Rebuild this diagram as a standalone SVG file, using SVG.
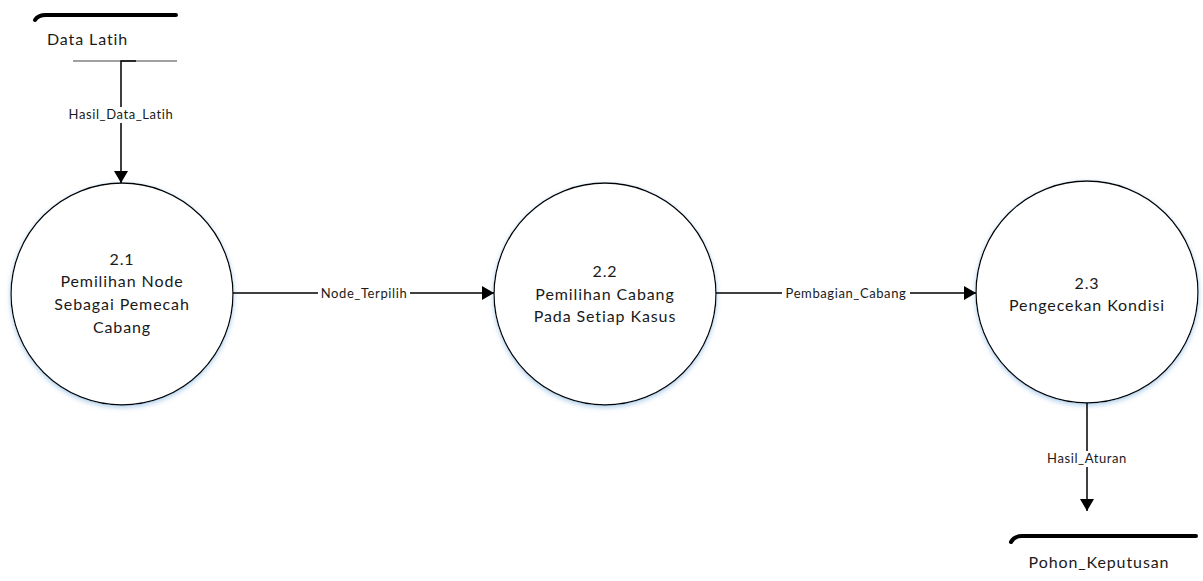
<svg xmlns="http://www.w3.org/2000/svg" width="1203" height="581" viewBox="0 0 1203 581">
  <style>
    .proc { fill: #ffffff; stroke: #000000; stroke-width: 1.3; }
    .ptext { font-family: Lato, "Open Sans", sans-serif; font-size: 16px; letter-spacing: 0.9px; fill: #1a1a1a; text-anchor: middle; }
    .stext { font-family: Lato, "Open Sans", sans-serif; font-size: 16px; letter-spacing: 0.9px; fill: #1a1a1a; }
    .flow { fill: none; stroke: #000000; stroke-width: 1.5; }
    .ftext { font-family: Lato, "Open Sans", sans-serif; font-size: 13px; letter-spacing: 0.6px; fill: #1a1a1a; text-anchor: middle; }
    .lbg { fill: #ffffff; }
    .storeTop { fill: none; stroke: #000000; stroke-width: 4; stroke-linecap: round; }
  </style>
  <defs>
    <marker id="arrow" viewBox="0 0 12 14" refX="12" refY="7" markerWidth="12" markerHeight="14" markerUnits="userSpaceOnUse" orient="auto">
      <path d="M0,0 L12,7 L0,14 Z" fill="#000000"/>
    </marker>
    <filter id="glow" x="-20%" y="-20%" width="140%" height="140%">
      <feGaussianBlur in="SourceAlpha" stdDeviation="2.5"/>
      <feOffset dy="2" result="b"/>
      <feFlood flood-color="#9cc3e6" flood-opacity="0.8"/>
      <feComposite in2="b" operator="in"/>
      <feMerge><feMergeNode/><feMergeNode in="SourceGraphic"/></feMerge>
    </filter>
  </defs>

  <!-- Data stores -->
  <g id="store-data-latih">
    <path class="storeTop" d="M35,20 Q38,15 46,15 L176,15"/>
    <line x1="73" y1="61" x2="177" y2="61" stroke="#a0a0a0" stroke-width="2"/>
    <text class="stext" x="47" y="45">Data Latih</text>
  </g>

  <g id="store-pohon-keputusan">
    <path class="storeTop" d="M1011,542 Q1014,536 1022,536 L1196,536"/>
    <text class="stext" x="1099" y="568" text-anchor="middle">Pohon_Keputusan</text>
  </g>

  <!-- Processes -->
  <g id="proc-2-1">
    <circle class="proc" cx="122" cy="294" r="111" filter="url(#glow)"/>
    <text class="ptext" x="122" y="265">2.1</text>
    <text class="ptext" x="122" y="287">Pemilihan Node</text>
    <text class="ptext" x="122" y="310">Sebagai Pemecah</text>
    <text class="ptext" x="122" y="333">Cabang</text>
  </g>

  <g id="proc-2-2">
    <circle class="proc" cx="605" cy="294" r="111" filter="url(#glow)"/>
    <text class="ptext" x="605" y="277">2.2</text>
    <text class="ptext" x="605" y="300">Pemilihan Cabang</text>
    <text class="ptext" x="605" y="322">Pada Setiap Kasus</text>
  </g>

  <g id="proc-2-3">
    <circle class="proc" cx="1087" cy="292" r="111" filter="url(#glow)"/>
    <text class="ptext" x="1087" y="289">2.3</text>
    <text class="ptext" x="1087" y="311">Pengecekan Kondisi</text>
  </g>

  <!-- Data flows -->
  <g id="flows">
    <path class="flow" d="M136,61 L121,61 L121,183" marker-end="url(#arrow)"/>
    <rect class="lbg" x="64" y="107" width="114" height="16"/>
    <text class="ftext" x="121" y="119">Hasil_Data_Latih</text>

    <path class="flow" d="M233,293 L494,293" marker-end="url(#arrow)"/>
    <rect class="lbg" x="318" y="286" width="92" height="14"/>
    <text class="ftext" x="364" y="298">Node_Terpilih</text>

    <path class="flow" d="M716,293 L976,293" marker-end="url(#arrow)"/>
    <rect class="lbg" x="782" y="286" width="128" height="14"/>
    <text class="ftext" x="846" y="298">Pembagian_Cabang</text>

    <path class="flow" d="M1087,403 L1087,511" marker-end="url(#arrow)"/>
    <rect class="lbg" x="1042" y="451" width="90" height="16"/>
    <text class="ftext" x="1087" y="463">Hasil_Aturan</text>
  </g>
</svg>
